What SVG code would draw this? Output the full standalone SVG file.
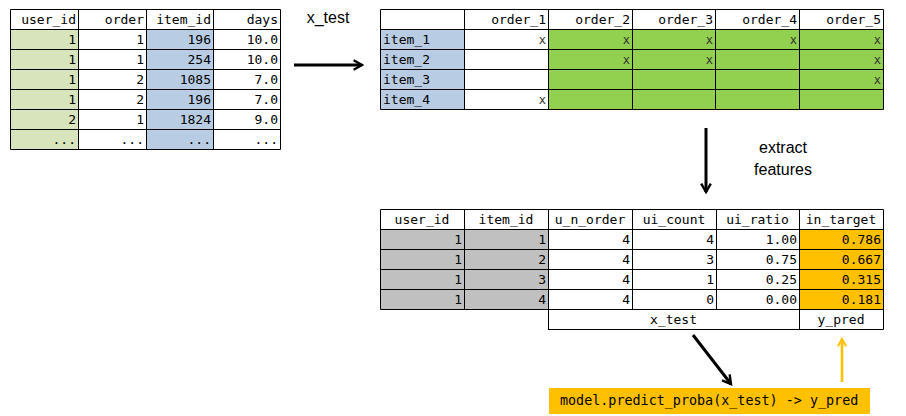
<svg xmlns="http://www.w3.org/2000/svg" width="906" height="416" viewBox="0 0 906 416">
<style>
.t{font-family:"DejaVu Sans Mono","Liberation Mono",monospace;font-size:13px;fill:#000}
.r{text-anchor:end}
.c{text-anchor:middle}
.x{font-family:"DejaVu Sans Mono","Liberation Mono",monospace;font-size:12px;fill:#333;text-anchor:end}
.g{stroke:#000;stroke-width:1;fill:none}
.lbl{font-family:"Liberation Sans",Arial,sans-serif;font-size:16px;fill:#000}
</style>
<defs>
<marker id="ah" viewBox="0 0 10 10" refX="8" refY="5" markerWidth="4" markerHeight="4" orient="auto" markerUnits="strokeWidth">
<polyline points="1,1 8,5 1,9" fill="none" stroke="#000" stroke-width="2"/>
</marker>
<marker id="ao" viewBox="0 0 10 10" refX="8" refY="5" markerWidth="4" markerHeight="4" orient="auto" markerUnits="strokeWidth">
<polyline points="1,1 8,5 1,9" fill="none" stroke="#FFC000" stroke-width="2"/>
</marker>
</defs>
<rect width="906" height="416" fill="#fff"/>

<g id="table_raw">
<rect x="10" y="29" width="68" height="120" fill="#D8E4BC"/>
<rect x="146" y="29" width="67" height="120" fill="#B8CCE4"/>
<path class="g" d="M10.5 9.5H280.5V149.5H10.5Z M10 29.5H280 M10 49.5H280 M10 69.5H280 M10 89.5H280 M10 109.5H280 M10 129.5H280 M78.5 9V149 M146.5 9V149 M213.5 9V149"/>
<g class="t r">
<text x="76" y="24">user_id</text><text x="144" y="24">order</text><text x="211" y="24">item_id</text><text x="278" y="24">days</text>
<text x="76" y="44">1</text><text x="144" y="44">1</text><text x="211" y="44">196</text><text x="278" y="44">10.0</text>
<text x="76" y="64">1</text><text x="144" y="64">1</text><text x="211" y="64">254</text><text x="278" y="64">10.0</text>
<text x="76" y="84">1</text><text x="144" y="84">2</text><text x="211" y="84">1085</text><text x="278" y="84">7.0</text>
<text x="76" y="104">1</text><text x="144" y="104">2</text><text x="211" y="104">196</text><text x="278" y="104">7.0</text>
<text x="76" y="124">2</text><text x="144" y="124">1</text><text x="211" y="124">1824</text><text x="278" y="124">9.0</text>
<text x="76" y="144">...</text><text x="144" y="144">...</text><text x="211" y="144">...</text><text x="278" y="144">...</text>
</g>
</g>

<g id="table_matrix">
<rect x="380" y="29" width="84" height="80" fill="#B8CCE4"/>
<rect x="548" y="29" width="335" height="80" fill="#92D050"/>
<path class="g" d="M380.5 9.5H883.5V109.5H380.5Z M380 29.5H883 M380 49.5H883 M380 69.5H883 M380 89.5H883 M464.5 9V109 M548.5 9V109 M632.5 9V109 M715.5 9V109 M799.5 9V109"/>
<g class="t r">
<text x="546" y="24">order_1</text><text x="630" y="24">order_2</text><text x="713" y="24">order_3</text><text x="797" y="24">order_4</text><text x="881" y="24">order_5</text>
</g>
<g class="t">
<text x="383" y="44">item_1</text><text x="383" y="64">item_2</text><text x="383" y="84">item_3</text><text x="383" y="104">item_4</text>
</g>
<g class="x">
<text x="546" y="44">x</text><text x="630" y="44">x</text><text x="713" y="44">x</text><text x="797" y="44">x</text><text x="881" y="44">x</text>
<text x="630" y="64">x</text><text x="713" y="64">x</text><text x="881" y="64">x</text>
<text x="881" y="84">x</text>
<text x="546" y="104">x</text>
</g>
</g>

<g id="table_features">
<rect x="380" y="229" width="168" height="80" fill="#C0C0C0"/>
<rect x="799" y="229" width="84" height="80" fill="#FFC000"/>
<path class="g" d="M380.5 209.5H883.5V309.5H380.5Z M380 229.5H883 M380 249.5H883 M380 269.5H883 M380 289.5H883 M464.5 209V309 M548.5 209V329.5 M632.5 209V309 M716.5 209V309 M799.5 209V329.5 M548 329.5H883.5V309"/>
<g class="t c">
<text x="422" y="224">user_id</text><text x="506" y="224">item_id</text><text x="590" y="224">u_n_order</text><text x="674" y="224">ui_count</text><text x="757.5" y="224">ui_ratio</text><text x="841" y="224">in_target</text>
<text x="673.5" y="324">x_test</text><text x="841" y="324">y_pred</text>
</g>
<g class="t r">
<text x="462" y="244">1</text><text x="546" y="244">1</text><text x="630" y="244">4</text><text x="714" y="244">4</text><text x="797" y="244">1.00</text><text x="881" y="244">0.786</text>
<text x="462" y="264">1</text><text x="546" y="264">2</text><text x="630" y="264">4</text><text x="714" y="264">3</text><text x="797" y="264">0.75</text><text x="881" y="264">0.667</text>
<text x="462" y="284">1</text><text x="546" y="284">3</text><text x="630" y="284">4</text><text x="714" y="284">1</text><text x="797" y="284">0.25</text><text x="881" y="284">0.315</text>
<text x="462" y="304">1</text><text x="546" y="304">4</text><text x="630" y="304">4</text><text x="714" y="304">0</text><text x="797" y="304">0.00</text><text x="881" y="304">0.181</text>
</g>
</g>

<g id="model_box">
<rect x="549" y="388" width="321" height="26" fill="#FFC000"/>
<text class="t" x="560" y="405" style="font-size:13.4px">model.predict_proba(x_test) -&gt; y_pred</text>
</g>

<g id="connectors">
<line x1="294" y1="65" x2="362" y2="65" stroke="#000" stroke-width="3" marker-end="url(#ah)"/>
<text class="lbl" x="328" y="23" text-anchor="middle">x_test</text>
<line x1="706" y1="128" x2="706" y2="192" stroke="#000" stroke-width="3" marker-end="url(#ah)"/>
<text class="lbl" x="783" y="153" text-anchor="middle">extract</text>
<text class="lbl" x="783" y="175" text-anchor="middle">features</text>
<line x1="693" y1="335" x2="731" y2="384" stroke="#000" stroke-width="3" marker-end="url(#ah)"/>
<line x1="842" y1="382" x2="842" y2="339" stroke="#FFC000" stroke-width="2.6" marker-end="url(#ao)"/>
</g>
</svg>
